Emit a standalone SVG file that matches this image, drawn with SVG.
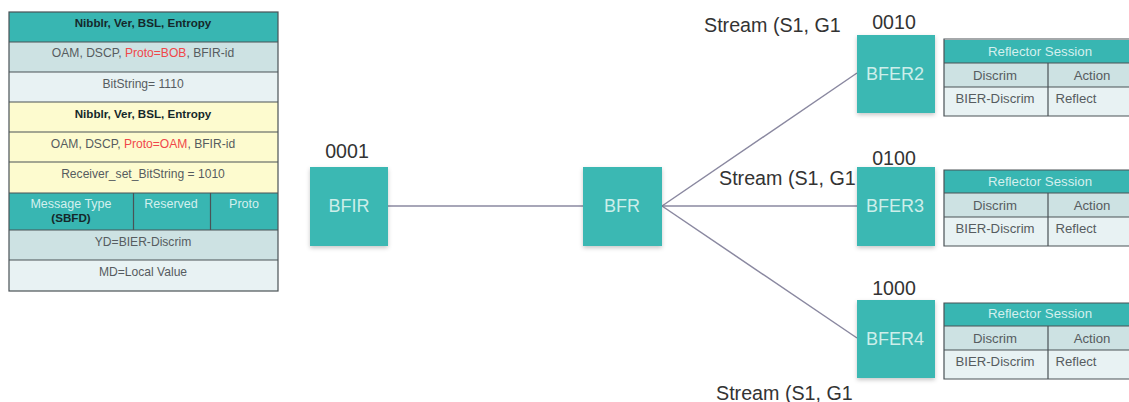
<svg xmlns="http://www.w3.org/2000/svg" width="1129" height="402" viewBox="0 0 1129 402">
<defs>
<filter id="sh" x="-10%" y="-10%" width="120%" height="125%"><feDropShadow dx="0" dy="2" stdDeviation="2" flood-color="#000" flood-opacity="0.22"/></filter>
</defs>
<style>
text{font-family:"Liberation Sans",Arial,sans-serif;text-anchor:middle}
.t{font-size:12.1px;fill:#565c60}
.s{font-size:13.2px;fill:#565c60}
.b{font-size:11.6px;fill:#15282a;font-weight:bold}
.w{font-size:12.5px;fill:#d4f0ee}
.h{font-size:13.3px;fill:#d4f0ee}
.r{fill:#f0474a}
.n{font-size:18px;fill:#cdeeea}
.c{font-size:19.6px;fill:#333}
.l{font-size:19.7px;fill:#333;text-anchor:start}
.teal{fill:#38b6b2}.mid{fill:#cde2e3}.pale{fill:#e8f2f3}.yel{fill:#fdfbcf}
.g{stroke:#4a5256;stroke-width:1.2}
.box{fill:#3ab8b3;filter:url(#sh)}
.cn{stroke:#8a88a0;stroke-width:1.5;fill:none}
</style>
<rect width="1129" height="402" fill="#fff"/>
<g id="connectors">
<line class="cn" x1="388" y1="206" x2="584" y2="206"/>
<line class="cn" x1="662" y1="206" x2="857" y2="73"/>
<line class="cn" x1="662" y1="206" x2="857" y2="206"/>
<line class="cn" x1="662" y1="206" x2="857" y2="338"/>
</g>
<g id="packet">
<rect class="teal" x="9" y="12" width="269" height="30"/>
<rect class="mid" x="9" y="42" width="269" height="30"/>
<rect class="pale" x="9" y="72" width="269" height="30"/>
<rect class="yel" x="9" y="102" width="269" height="30"/>
<rect class="yel" x="9" y="132" width="269" height="30"/>
<rect class="yel" x="9" y="162" width="269" height="31"/>
<rect class="teal" x="9" y="193" width="269" height="37"/>
<rect class="mid" x="9" y="230" width="269" height="30"/>
<rect class="pale" x="9" y="260" width="269" height="31"/>
<g class="g" fill="none">
<rect x="9" y="12" width="269" height="279"/>
<path d="M9 42H278M9 72H278M9 102H278M9 132H278M9 162H278M9 193H278M9 230H278M9 260H278M133.500 193V230M210.500 193V230"/>
</g>
<text class="b" x="143" y="27">Nibblr, Ver, BSL, Entropy</text>
<text class="t" x="143" y="57">OAM, DSCP, <tspan class="r">Proto=BOB</tspan>, BFIR-id</text>
<text class="t" x="143" y="88">BitString= 1110</text>
<text class="b" x="143" y="118">Nibblr, Ver, BSL, Entropy</text>
<text class="t" x="143" y="148">OAM, DSCP, <tspan class="r">Proto=OAM</tspan>, BFIR-id</text>
<text class="t" x="143" y="178">Receiver_set_BitString = 1010</text>
<text class="w" x="71" y="208">Message Type</text>
<text class="b" x="71" y="222">(SBFD)</text>
<text class="w" x="171" y="208">Reserved</text>
<text class="w" x="244" y="208">Proto</text>
<text class="t" x="143" y="246">YD=BIER-Discrim</text>
<text class="t" x="143" y="276">MD=Local Value</text>
</g>
<g id="BFIR"><rect class="box" x="310" y="167" width="78" height="79"/><text class="n" x="349" y="212">BFIR</text><text class="c" x="347" y="158">0001</text></g>
<g id="BFR"><rect class="box" x="583" y="167" width="79" height="79"/><text class="n" x="622" y="212">BFR</text></g>
<g id="BFER2"><rect class="box" x="857" y="35" width="78" height="78"/><text class="n" x="895" y="80">BFER2</text><text class="c" x="894" y="29">0010</text></g>
<g id="BFER3"><rect class="box" x="857" y="167" width="78" height="79"/><text class="n" x="895" y="212">BFER3</text><text class="c" x="894" y="165">0100</text></g>
<g id="BFER4"><rect class="box" x="857" y="300" width="78" height="78"/><text class="n" x="895" y="345">BFER4</text><text class="c" x="894" y="295">1000</text></g>
<g id="stream1"><text class="l" x="704" y="32">Stream (S1, G1</text></g>
<g id="stream2"><text class="l" x="719" y="185">Stream (S1, G1</text></g>
<g id="stream3"><text class="l" x="716" y="400">Stream (S1, G1</text></g>
<g id="session2">
<rect class="teal" x="944" y="40" width="185" height="23"/><rect class="mid" x="944" y="63" width="185" height="24"/><rect class="pale" x="944" y="87" width="185" height="29"/>
<path class="g" fill="none" d="M1129 39H944V116H1129M944 63H1129M944 87H1129M1048 63V116"/>
<text class="h" x="1040" y="56">Reflector Session</text><text class="s" x="995" y="80">Discrim</text><text class="s" x="1092" y="80">Action</text><text class="s" x="995" y="103">BIER-Discrim</text><text class="s" x="1076" y="103">Reflect</text>
</g>
<g id="session3">
<rect class="teal" x="944" y="170" width="185" height="23"/><rect class="mid" x="944" y="193" width="185" height="24"/><rect class="pale" x="944" y="217" width="185" height="29"/>
<path class="g" fill="none" d="M1129 170H944V246H1129M944 193H1129M944 217H1129M1048 193V246"/>
<text class="h" x="1040" y="186">Reflector Session</text><text class="s" x="995" y="210">Discrim</text><text class="s" x="1092" y="210">Action</text><text class="s" x="995" y="233">BIER-Discrim</text><text class="s" x="1076" y="233">Reflect</text>
</g>
<g id="session4">
<rect class="teal" x="944" y="303" width="185" height="23"/><rect class="mid" x="944" y="326" width="185" height="24"/><rect class="pale" x="944" y="350" width="185" height="29"/>
<path class="g" fill="none" d="M1129 303H944V379H1129M944 326H1129M944 350H1129M1048 326V379"/>
<text class="h" x="1040" y="318">Reflector Session</text><text class="s" x="995" y="343">Discrim</text><text class="s" x="1092" y="343">Action</text><text class="s" x="995" y="366">BIER-Discrim</text><text class="s" x="1076" y="366">Reflect</text>
</g>
</svg>
